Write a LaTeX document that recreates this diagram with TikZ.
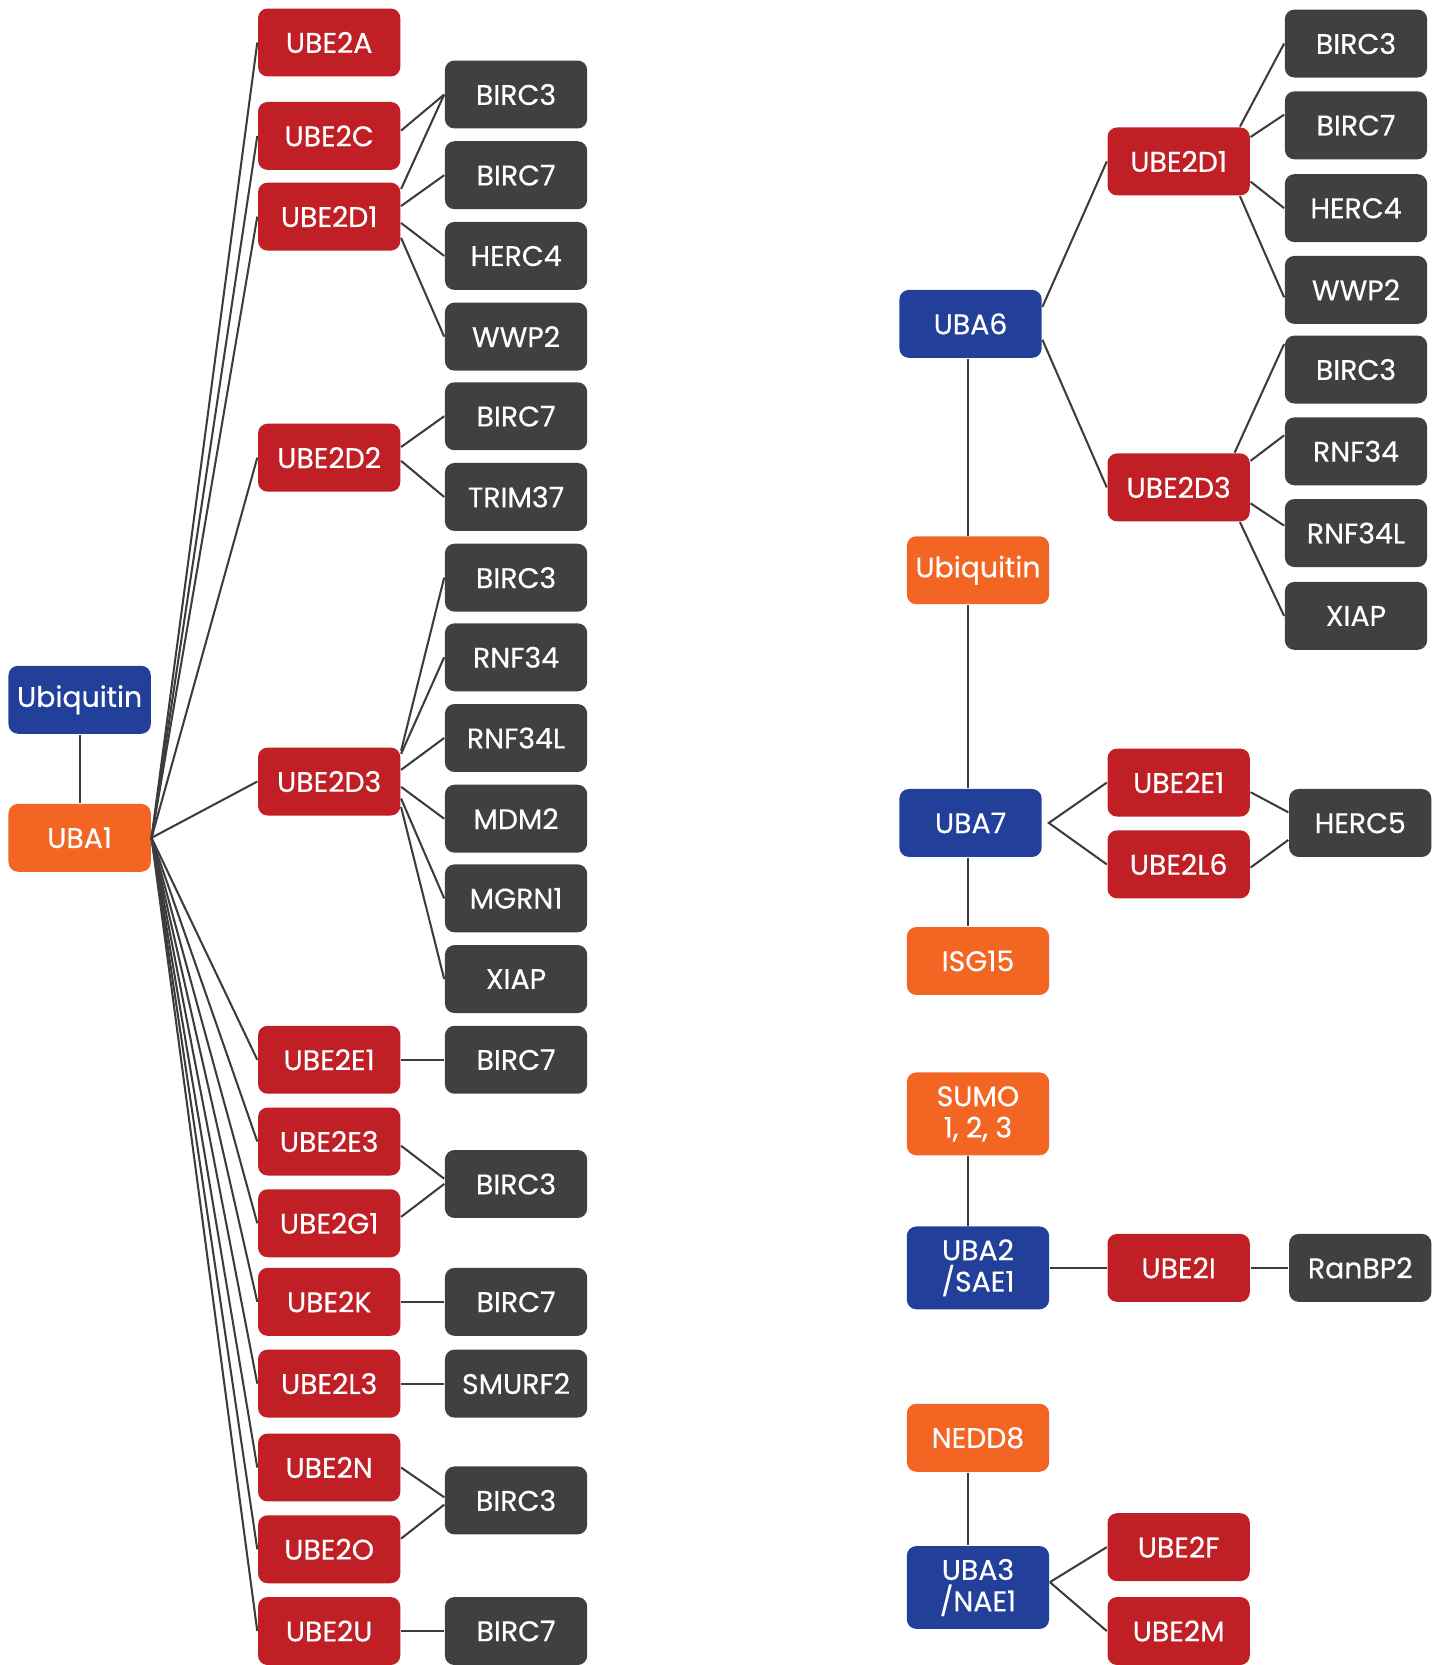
\documentclass[tikz,border=0pt]{standalone}
\usepackage{fontspec}
\setmainfont{Poppins}[UprightFeatures={FakeBold=0.4}]

\definecolor{bluebg}{HTML}{22409A}
\definecolor{orangebg}{HTML}{F26522}
\definecolor{redbg}{HTML}{C11F26}
\definecolor{graybg}{HTML}{404040}
\definecolor{linkcol}{HTML}{3C3C3C}

\tikzset{
  box/.style={rectangle, rounded corners=0.9mm, minimum width=13.4mm, minimum height=6.4mm,
    inner sep=0pt, text=white, align=center, font=\fontsize{7.6}{8.4}\selectfont},
  bluebox/.style={box, fill=bluebg},
  orangebox/.style={box, fill=orangebg},
  redbox/.style={box, fill=redbg},
  graybox/.style={box, fill=graybg},
  tallbox/.style={minimum height=7.8mm},
  link/.style={draw=linkcol, line width=0.55pt}
}

\begin{document}
\begin{tikzpicture}[x=0.1mm, y=-0.1mm]
\useasboundingbox (0,0) rectangle (1351,1568);

% E1 side, left
\node[bluebox] (ubql) at (75,659) {Ubiquitin};
\node[orangebox] (uba1) at (75,789) {UBA1};

% E2 column
\node[redbox] (ube2a) at (310,40) {UBE2A};
\node[redbox] (ube2c) at (310,128) {UBE2C};
\node[redbox] (ube2da) at (310,204) {UBE2D1};
\node[redbox] (ube2db) at (310,431) {UBE2D2};
\node[redbox] (ube2dc) at (310,736) {UBE2D3};
\node[redbox] (ube2ea) at (310,998) {UBE2E1};
\node[redbox] (ube2eb) at (310,1075) {UBE2E3};
\node[redbox] (ube2g) at (310,1152) {UBE2G1};
\node[redbox] (ube2k) at (310,1226) {UBE2K};
\node[redbox] (ube2l) at (310,1303) {UBE2L3};
\node[redbox] (ube2n) at (310,1382) {UBE2N};
\node[redbox] (ube2o) at (310,1459) {UBE2O};
\node[redbox] (ube2u) at (310,1536) {UBE2U};

% E3 column
\node[graybox] (birc3a) at (486,89) {BIRC3};
\node[graybox] (birc7a) at (486,165) {BIRC7};
\node[graybox] (herc4a) at (486,241) {HERC4};
\node[graybox] (wwp2a) at (486,317) {WWP2};
\node[graybox] (birc7b) at (486,392) {BIRC7};
\node[graybox] (trim37) at (486,468) {TRIM37};
\node[graybox] (birc3b) at (486,544) {BIRC3};
\node[graybox] (rnf34a) at (486,619) {RNF34};
\node[graybox] (rnf34la) at (486,695) {RNF34L};
\node[graybox] (mdm2) at (486,771) {MDM2};
\node[graybox] (mgrn1) at (486,846) {MGRN1};
\node[graybox] (xiapa) at (486,922) {XIAP};
\node[graybox] (birc7c) at (486,998) {BIRC7};
\node[graybox] (birc3c) at (486,1115) {BIRC3};
\node[graybox] (birc7d) at (486,1226) {BIRC7};
\node[graybox] (smurf2) at (486,1303) {SMURF2};
\node[graybox] (birc3d) at (486,1413) {BIRC3};
\node[graybox] (birc7e) at (486,1536) {BIRC7};

\draw[link] (ubql) -- (uba1);
\foreach \e in {ube2a,ube2c,ube2da,ube2db,ube2dc,ube2ea,ube2eb,ube2g,ube2k,ube2l,ube2n,ube2o,ube2u}
  \draw[link] (uba1.east) -- (\e.west);

\draw[link] ([yshift=0.5mm]ube2c.east) -- (birc3a.west);
\draw[link] ([yshift=2.6mm]ube2da.east) -- (birc3a.west);
\draw[link] ([yshift=1mm]ube2da.east) -- (birc7a.west);
\draw[link] ([yshift=-0.6mm]ube2da.east) -- (herc4a.west);
\draw[link] ([yshift=-2mm]ube2da.east) -- (wwp2a.west);
\draw[link] ([yshift=1mm]ube2db.east) -- (birc7b.west);
\draw[link] ([yshift=-0.3mm]ube2db.east) -- (trim37.west);
\draw[link] ([yshift=2.9mm]ube2dc.east) -- (birc3b.west);
\draw[link] ([yshift=2.6mm]ube2dc.east) -- (rnf34a.west);
\draw[link] ([yshift=1.1mm]ube2dc.east) -- (rnf34la.west);
\draw[link] ([yshift=-0.5mm]ube2dc.east) -- (mdm2.west);
\draw[link] ([yshift=-1.6mm]ube2dc.east) -- (mgrn1.west);
\draw[link] ([yshift=-2.4mm]ube2dc.east) -- (xiapa.west);
\draw[link] (ube2ea.east) -- (birc7c.west);
\draw[link] ([yshift=-0.4mm]ube2eb.east) -- ([yshift=0.5mm]birc3c.west);
\draw[link] ([yshift=0.6mm]ube2g.east) -- (birc3c.west);
\draw[link] (ube2k.east) -- (birc7d.west);
\draw[link] (ube2l.east) -- (smurf2.west);
\draw[link] (ube2n.east) -- ([yshift=0.3mm]birc3d.west);
\draw[link] ([yshift=1mm]ube2o.east) -- ([yshift=-0.4mm]birc3d.west);
\draw[link] (ube2u.east) -- (birc7e.west);

% right side
\node[bluebox] (uba6) at (914,305) {UBA6};
\node[redbox] (ube2dr1) at (1110,152) {UBE2D1};
\node[redbox] (ube2dr3) at (1110,459) {UBE2D3};
\node[graybox] (birc3r1) at (1277,41) {BIRC3};
\node[graybox] (birc7r) at (1277,118) {BIRC7};
\node[graybox] (herc4r) at (1277,196) {HERC4};
\node[graybox] (wwp2r) at (1277,273) {WWP2};
\node[graybox] (birc3r2) at (1277,348) {BIRC3};
\node[graybox] (rnf34r) at (1277,425) {RNF34};
\node[graybox] (rnf34lr) at (1277,502) {RNF34L};
\node[graybox] (xiapr) at (1277,580) {XIAP};
\node[orangebox] (ubqr) at (921,537) {Ubiquitin};
\node[bluebox] (uba7) at (914,775) {UBA7};
\node[redbox] (ube2er) at (1110,737) {UBE2E1};
\node[redbox] (ube2l6) at (1110,814) {UBE2L6};
\node[graybox] (herc5) at (1281,775) {HERC5};
\node[orangebox] (isg15) at (921,905) {ISG15};
\node[orangebox, tallbox] (sumo) at (921,1049) {SUMO\\1, 2, 3};
\node[bluebox, tallbox] (uba2) at (921,1194) {UBA2\\/SAE1};
\node[redbox] (ube2i) at (1110,1194) {UBE2I};
\node[graybox] (ranbp2) at (1281,1194) {RanBP2};
\node[orangebox] (nedd8) at (921,1354) {NEDD8};
\node[bluebox, tallbox] (uba3) at (921,1495) {UBA3\\/NAE1};
\node[redbox] (ube2f) at (1110,1457) {UBE2F};
\node[redbox] (ube2m) at (1110,1536) {UBE2M};

\draw[link] ([xshift=-0.2mm]uba6.south) -- ([xshift=-0.2mm]uba6.south |- ubqr.north);
\draw[link] ([xshift=-0.2mm]uba7.north) -- ([xshift=-0.2mm]uba7.north |- ubqr.south);
\draw[link] ([xshift=-0.2mm]uba7.south) -- ([xshift=-0.2mm]uba7.south |- isg15.north);
\draw[link] ([xshift=-0.9mm]sumo.south) -- ([xshift=-0.9mm]uba2.north);
\draw[link] ([xshift=-0.9mm]nedd8.south) -- ([xshift=-0.9mm]uba3.north);

\draw[link] ([yshift=1.6mm]uba6.east) -- (ube2dr1.west);
\draw[link] ([yshift=-1.5mm]uba6.east) -- (ube2dr3.west);
\draw[link] ([xshift=-1mm]ube2dr1.north east) -- (birc3r1.west);
\draw[link] ([yshift=2.3mm]ube2dr1.east) -- ([yshift=1mm]birc7r.west);
\draw[link] ([yshift=-1.9mm]ube2dr1.east) -- (herc4r.west);
\draw[link] ([xshift=-1mm]ube2dr1.south east) -- ([yshift=-0.7mm]wwp2r.west);
\draw[link] ([xshift=-1.5mm]ube2dr3.north east) -- ([yshift=2.4mm]birc3r2.west);
\draw[link] ([yshift=2.5mm]ube2dr3.east) -- ([yshift=1.5mm]rnf34r.west);
\draw[link] ([yshift=-1.5mm]ube2dr3.east) -- ([yshift=0.7mm]rnf34lr.west);
\draw[link] ([xshift=-1mm]ube2dr3.south east) -- (xiapr.west);

\draw[link] (ube2er.west) -- ([xshift=0.6mm]uba7.east) -- (ube2l6.west);
\draw[link] ([yshift=-0.9mm]ube2er.east) -- ([yshift=1mm]herc5.west);
\draw[link] ([yshift=-0.3mm]ube2l6.east) -- ([yshift=-1.6mm]herc5.west);

\draw[link] (uba2.east) -- (ube2i.west);
\draw[link] (ube2i.east) -- (ranbp2.west);
\draw[link] ([yshift=0.5mm]uba3.east) -- (ube2f.west);
\draw[link] ([yshift=0.5mm]uba3.east) -- (ube2m.west);
\end{tikzpicture}
\end{document}
